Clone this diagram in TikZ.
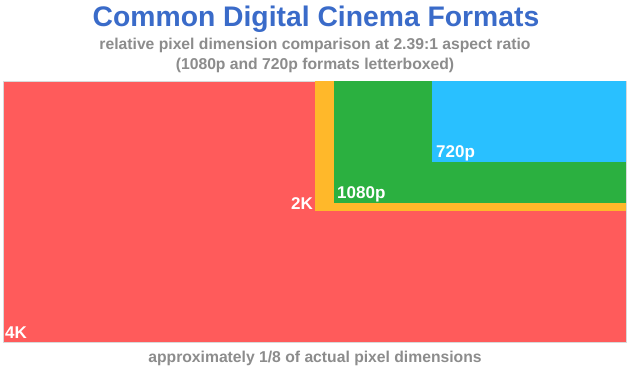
\documentclass[tikz,border=0pt]{standalone}
\usepackage{fontspec}
\setmainfont{Liberation Sans}
\usetikzlibrary{positioning}
\definecolor{fmtred}{RGB}{255, 91, 91}
\definecolor{fmtgold}{RGB}{255, 184, 42}
\definecolor{fmtgreen}{RGB}{43, 176, 64}
\definecolor{fmtblue}{RGB}{41, 192, 255}
\definecolor{titleblue}{RGB}{58, 107, 201}
\definecolor{note}{RGB}{140, 140, 140}

\begin{document}
\begin{tikzpicture}[
  x=1pt, y=-1pt,
  frame/.style={draw=none, inner sep=0pt, outer sep=0pt, anchor=north east},
  lbl/.style={text=white, font=\bfseries\fontsize{17}{19}\selectfont, inner sep=0pt},
  sub/.style={text=note, font=\bfseries\fontsize{15.7}{20}\selectfont, inner sep=0pt},
]
  \useasboundingbox[fill=white] (0,0) rectangle (630,371);

  % nested format frames, all sharing the top right corner
  \node[frame, fill=fmtred, draw=black!15, line width=0.6pt,
        minimum width=623, minimum height=261] (k4) at (626,81) {};
  \node[frame, fill=fmtgold, minimum width=311, minimum height=130] (k2) at (k4.north east) {};
  \node[frame, fill=fmtgreen, minimum width=292, minimum height=122] (hd) at (k4.north east) {};
  \node[frame, fill=fmtblue, minimum width=194, minimum height=81] (hdr) at (k4.north east) {};

  % labels
  \node[lbl, anchor=base west, xshift=2pt, yshift=3pt] (k4lbl) at (k4.south west) {4K};
  \node[lbl, anchor=base east, xshift=-2pt, yshift=1.5pt] (k2lbl) at (k2.south west) {2K};
  \node[lbl, anchor=base west, xshift=3pt, yshift=4pt] (hdlbl) at (hd.south west) {1080p};
  \node[lbl, anchor=base west, xshift=4pt, yshift=4pt] (hdrlbl) at (hdr.south west) {720p};

  % headings
  \node[text=titleblue, font=\bfseries\fontsize{28.3}{32}\selectfont, inner sep=0pt,
        anchor=base] (title) at (316,27) {Common Digital Cinema Formats};
  \node[sub, anchor=base] (line1) at (315,50) {relative pixel dimension comparison at 2.39:1 aspect ratio};
  \node[sub, anchor=base] (line2) at (315,70) {(1080p and 720p formats letterboxed)};
  \node[sub, anchor=base] (foot) at (315,363) {approximately 1/8 of actual pixel dimensions};
\end{tikzpicture}
\end{document}
